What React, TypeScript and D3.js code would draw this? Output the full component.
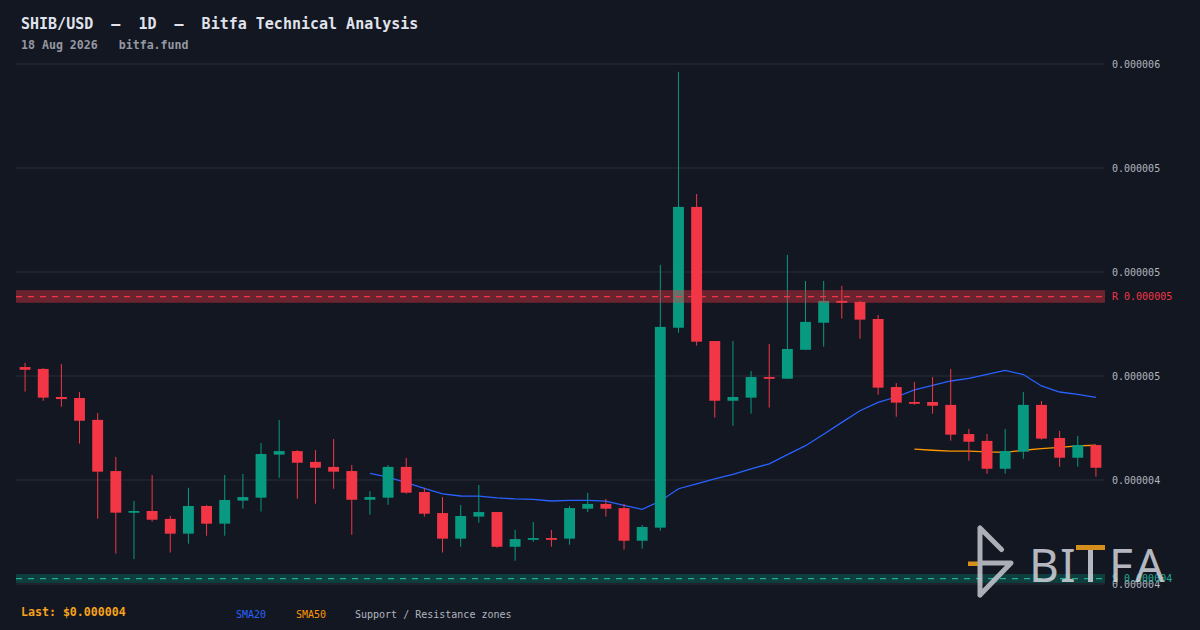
import React, { useEffect, useRef } from "react";
import * as d3 from "d3";

// daily candles, oldest first
const opens = [
  4.543e-6, 4.534e-6, 4.399e-6, 4.394e-6, 4.289e-6, 4.043e-6, 3.843e-6, 3.851e-6, 3.813e-6, 3.742e-6,
  3.875e-6, 3.790e-6, 3.901e-6, 3.915e-6, 4.122e-6, 4.139e-6, 4.087e-6, 4.063e-6, 4.043e-6, 3.905e-6,
  3.915e-6, 4.063e-6, 3.942e-6, 3.841e-6, 3.718e-6, 3.824e-6, 3.846e-6, 3.679e-6, 3.713e-6, 3.721e-6,
  3.718e-6, 3.862e-6, 3.885e-6, 3.865e-6, 3.708e-6, 3.771e-6, 4.732e-6, 5.313e-6, 4.668e-6, 4.381e-6,
  4.396e-6, 4.495e-6, 4.487e-6, 4.626e-6, 4.756e-6, 4.861e-6, 4.856e-6, 4.774e-6, 4.447e-6, 4.375e-6,
  4.375e-6, 4.361e-6, 4.221e-6, 4.188e-6, 4.054e-6, 4.136e-6, 4.361e-6, 4.202e-6, 4.107e-6, 4.168e-6,
];
const highs = [
  4.563e-6, 4.538e-6, 4.558e-6, 4.423e-6, 4.322e-6, 4.111e-6, 3.899e-6, 4.024e-6, 3.827e-6, 3.962e-6,
  3.880e-6, 4.024e-6, 4.029e-6, 4.178e-6, 4.289e-6, 4.144e-6, 4.144e-6, 4.197e-6, 4.072e-6, 3.947e-6,
  4.072e-6, 4.106e-6, 3.962e-6, 3.918e-6, 3.880e-6, 3.976e-6, 3.846e-6, 3.760e-6, 3.798e-6, 3.760e-6,
  3.875e-6, 3.938e-6, 3.909e-6, 3.885e-6, 3.784e-6, 5.034e-6, 5.962e-6, 5.375e-6, 4.668e-6, 4.668e-6,
  4.524e-6, 4.654e-6, 5.082e-6, 4.957e-6, 4.957e-6, 4.933e-6, 4.861e-6, 4.793e-6, 4.466e-6, 4.471e-6,
  4.495e-6, 4.534e-6, 4.245e-6, 4.221e-6, 4.245e-6, 4.423e-6, 4.380e-6, 4.236e-6, 4.212e-6, 4.168e-6,
];
const lows = [
  4.425e-6, 4.381e-6, 4.352e-6, 4.175e-6, 3.814e-6, 3.646e-6, 3.620e-6, 3.800e-6, 3.651e-6, 3.694e-6,
  3.732e-6, 3.732e-6, 3.862e-6, 3.848e-6, 4.011e-6, 3.910e-6, 3.886e-6, 3.958e-6, 3.737e-6, 3.833e-6,
  3.881e-6, 3.934e-6, 3.824e-6, 3.651e-6, 3.679e-6, 3.795e-6, 3.675e-6, 3.612e-6, 3.703e-6, 3.679e-6,
  3.689e-6, 3.846e-6, 3.824e-6, 3.665e-6, 3.670e-6, 3.756e-6, 4.708e-6, 4.646e-6, 4.300e-6, 4.261e-6,
  4.319e-6, 4.348e-6, 4.487e-6, 4.626e-6, 4.641e-6, 4.776e-6, 4.679e-6, 4.410e-6, 4.304e-6, 4.362e-6,
  4.319e-6, 4.189e-6, 4.093e-6, 4.030e-6, 4.030e-6, 4.102e-6, 4.194e-6, 4.064e-6, 4.064e-6, 4.016e-6,
];
const closes = [
  4.530e-6, 4.396e-6, 4.389e-6, 4.285e-6, 4.040e-6, 3.843e-6, 3.851e-6, 3.809e-6, 3.742e-6, 3.875e-6,
  3.790e-6, 3.904e-6, 3.918e-6, 4.125e-6, 4.139e-6, 4.083e-6, 4.059e-6, 4.040e-6, 3.905e-6, 3.918e-6,
  4.063e-6, 3.939e-6, 3.838e-6, 3.718e-6, 3.827e-6, 3.846e-6, 3.679e-6, 3.716e-6, 3.721e-6, 3.713e-6,
  3.865e-6, 3.885e-6, 3.862e-6, 3.708e-6, 3.774e-6, 4.736e-6, 5.313e-6, 4.665e-6, 4.381e-6, 4.399e-6,
  4.495e-6, 4.487e-6, 4.630e-6, 4.760e-6, 4.861e-6, 4.852e-6, 4.771e-6, 4.444e-6, 4.372e-6, 4.367e-6,
  4.357e-6, 4.218e-6, 4.184e-6, 4.054e-6, 4.139e-6, 4.361e-6, 4.199e-6, 4.107e-6, 4.168e-6, 4.059e-6,
];

// moving averages (null until enough candles)
const sma20: (number | null)[] = [
  null, null, null, null, null, null, null, null, null, null,
  null, null, null, null, null, null, null, null, null, 4.032e-6,
  4.014e-6, 3.987e-6, 3.960e-6, 3.933e-6, 3.923e-6, 3.922e-6, 3.914e-6, 3.909e-6, 3.907e-6, 3.899e-6,
  3.902e-6, 3.902e-6, 3.898e-6, 3.878e-6, 3.859e-6, 3.899e-6, 3.958e-6, 3.981e-6, 4.005e-6, 4.027e-6,
  4.054e-6, 4.078e-6, 4.122e-6, 4.165e-6, 4.220e-6, 4.277e-6, 4.333e-6, 4.373e-6, 4.399e-6, 4.433e-6,
  4.455e-6, 4.476e-6, 4.489e-6, 4.508e-6, 4.527e-6, 4.507e-6, 4.452e-6, 4.423e-6, 4.412e-6, 4.397e-6,
];
const sma50: (number | null)[] = [
  null, null, null, null, null, null, null, null, null, null,
  null, null, null, null, null, null, null, null, null, null,
  null, null, null, null, null, null, null, null, null, null,
  null, null, null, null, null, null, null, null, null, null,
  null, null, null, null, null, null, null, null, null, 4.148e-6,
  4.143e-6, 4.139e-6, 4.139e-6, 4.135e-6, 4.133e-6, 4.143e-6, 4.151e-6, 4.157e-6, 4.164e-6, 4.167e-6,
];

const yTicks = [3.5e-6, 4.0e-6, 4.5e-6, 5.0e-6, 5.5e-6, 6.0e-6];
const yTickLabels = ["0.000004", "0.000004", "0.000005", "0.000005", "0.000005", "0.000006"];

// support / resistance zones: [low, level, high]
const resistanceZone = [4.852e-6, 4.882e-6, 4.913e-6];
const supportZone = [3.505e-6, 3.526e-6, 3.548e-6];

const colors = {
  bg: "#131722",
  grid: "#2a2e39",
  up: "#089981",
  down: "#f23645",
  teal: "#22ab94",
  axis: "#b2b5be",
  sma20: "#2962ff",
  sma50: "#ff9800",
  last: "#f7a21b",
  logo: "#d1d4dc",
};

const mono = "'DejaVu Sans Mono', monospace";

const App: React.FC = () => {
  const ref = useRef<HTMLDivElement>(null);

  useEffect(() => {
    if (!ref.current) return;
    d3.select(ref.current).selectAll("*").remove();

    const W = 1200, H = 630;
    const left = 16, right = 1105, top = 64, bottom = 584;

    const svg = d3.select(ref.current).append("svg")
      .attr("width", W).attr("height", H)
      .style("display", "block");

    svg.append("rect").attr("width", W).attr("height", H).attr("fill", colors.bg);

    const n = closes.length;
    const x = d3.scaleBand<number>()
      .domain(d3.range(n))
      .range([left, right])
      .paddingInner(0.4)
      .paddingOuter(0.2);
    const y = d3.scaleLinear().domain([3.5e-6, 6.0e-6]).range([bottom, top]);
    const cx = (i: number) => (x(i) as number) + x.bandwidth() / 2;

    // grid + price labels
    svg.append("g").selectAll("line")
      .data(yTicks).enter().append("line")
      .attr("x1", left).attr("x2", right)
      .attr("y1", d => y(d)).attr("y2", d => y(d))
      .attr("stroke", colors.grid).attr("stroke-width", 1);

    svg.append("g").selectAll("text")
      .data(yTicks).enter().append("text")
      .attr("x", right + 7)
      .attr("y", d => y(d))
      .attr("dy", "0.35em")
      .attr("font-family", mono).attr("font-size", 10)
      .attr("fill", colors.axis)
      .text((_, i) => yTickLabels[i]);

    // moving averages (under the candles)
    const maLine = d3.line<number | null>()
      .defined(d => d !== null)
      .x((_, i) => cx(i))
      .y(d => y(d as number));

    svg.append("path").attr("d", maLine(sma20) as string)
      .attr("fill", "none").attr("stroke", colors.sma20).attr("stroke-width", 1.3);
    svg.append("path").attr("d", maLine(sma50) as string)
      .attr("fill", "none").attr("stroke", colors.sma50).attr("stroke-width", 1.3);

    // candles
    const idx = d3.range(n);
    const cg = svg.append("g");
    const col = (i: number) => (closes[i] >= opens[i] ? colors.up : colors.down);

    cg.selectAll("line.wick").data(idx).enter().append("line")
      .attr("class", "wick")
      .attr("x1", i => cx(i)).attr("x2", i => cx(i))
      .attr("y1", i => y(highs[i])).attr("y2", i => y(lows[i]))
      .attr("stroke", i => col(i)).attr("stroke-width", 1);

    cg.selectAll("rect.body").data(idx).enter().append("rect")
      .attr("class", "body")
      .attr("x", i => x(i) as number)
      .attr("width", x.bandwidth())
      .attr("y", i => y(Math.max(opens[i], closes[i])))
      .attr("height", i => Math.max(1.8, Math.abs(y(opens[i]) - y(closes[i]))))
      .attr("fill", i => col(i));

    // zones
    const zone = (z: number[], color: string, lineColor: string, opacity: number, label: string) => {
      svg.append("rect")
        .attr("x", left).attr("width", right - left)
        .attr("y", y(z[2])).attr("height", y(z[0]) - y(z[2]))
        .attr("fill", color).attr("fill-opacity", opacity);
      svg.append("line")
        .attr("x1", left).attr("x2", right)
        .attr("y1", y(z[1])).attr("y2", y(z[1]))
        .attr("stroke", lineColor).attr("stroke-width", 1.2)
        .attr("stroke-dasharray", "6,6");
      svg.append("text")
        .attr("x", right + 7).attr("y", y(z[1])).attr("dy", "0.35em")
        .attr("font-family", mono).attr("font-size", 10)
        .attr("fill", lineColor)
        .text(`${label} ${z[1].toFixed(6)}`);
    };
    zone(resistanceZone, colors.down, colors.down, 0.4, "R");
    zone(supportZone, colors.up, colors.teal, 0.3, "S");

    // header
    svg.append("text")
      .attr("x", 21).attr("y", 29)
      .attr("font-family", mono).attr("font-size", 15).attr("font-weight", "bold")
      .attr("fill", "#e0e3eb")
      .attr("xml:space", "preserve")
      .style("white-space", "pre")
      .text("SHIB/USD  –  1D  –  Bitfa Technical Analysis");
    svg.append("text")
      .attr("x", 21).attr("y", 49)
      .attr("font-family", mono).attr("font-size", 11.6).attr("font-weight", "bold")
      .attr("fill", "#9598a1")
      .style("white-space", "pre")
      .text("18 Aug 2026   bitfa.fund");

    // footer legend
    svg.append("text")
      .attr("x", 21).attr("y", 616)
      .attr("font-family", mono).attr("font-size", 11.6).attr("font-weight", "bold")
      .attr("fill", colors.last)
      .text(`Last: $${closes[n - 1].toFixed(6)}`);
    const legend = [
      { label: "SMA20", color: colors.sma20, x: 236 },
      { label: "SMA50", color: colors.sma50, x: 296 },
      { label: "Support / Resistance zones", color: colors.axis, x: 355 },
    ];
    svg.append("g").selectAll("text").data(legend).enter().append("text")
      .attr("x", d => d.x).attr("y", 618)
      .attr("font-family", mono).attr("font-size", 10)
      .attr("fill", d => d.color)
      .text(d => d.label);

    // watermark logo
    const logo = svg.append("g").attr("opacity", 0.85);
    logo.append("rect").attr("x", 968).attr("y", 561.5).attr("width", 10).attr("height", 4.5).attr("fill", colors.last);
    logo.append("path")
      .attr("d", "M980,528 L1001.5,549.5 M980,528 L980,595 M980,563 L1011,563 L980,595")
      .attr("fill", "none").attr("stroke", "#c8cad0").attr("stroke-width", 5)
      .attr("stroke-linecap", "round").attr("stroke-linejoin", "round");
    const letters = [
      { ch: "B", x: 1029 },
      { ch: "I", x: 1060 },
      { ch: "F", x: 1109 },
      { ch: "A", x: 1135 },
    ];
    logo.selectAll("text.logo").data(letters).enter().append("text")
      .attr("class", "logo")
      .attr("x", d => d.x).attr("y", 582)
      .attr("font-family", "'Noto Sans', sans-serif").attr("font-size", 46)
      .attr("fill", colors.logo)
      .text(d => d.ch);
    logo.append("rect").attr("x", 1076).attr("y", 545).attr("width", 29).attr("height", 5).attr("fill", colors.last);
    logo.append("rect").attr("x", 1088).attr("y", 550).attr("width", 5).attr("height", 32).attr("fill", colors.logo);
  }, []);

  return <div ref={ref} style={{ position: "absolute", left: 0, top: 0 }} />;
};

export default App;
